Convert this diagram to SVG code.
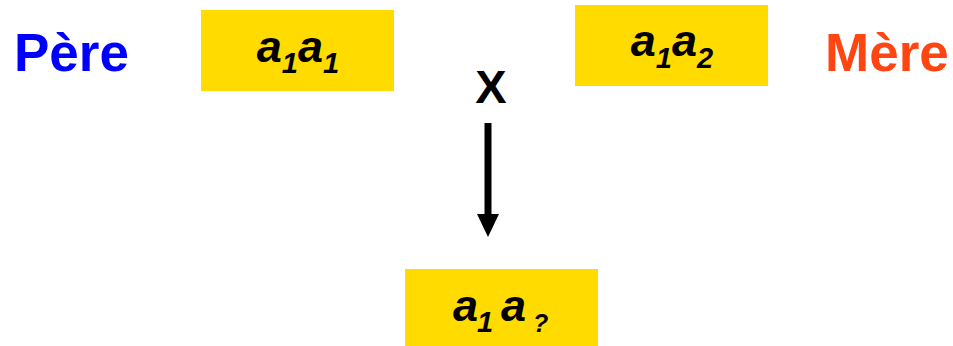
<svg xmlns="http://www.w3.org/2000/svg" width="953" height="346" viewBox="0 0 953 346">
<style>
.box{fill:#FFDB00}
.lbl{font-family:"Liberation Sans",Arial,sans-serif;font-weight:bold}
.g{font-family:"Liberation Sans",Arial,sans-serif;font-weight:bold;font-style:italic;font-size:45px;fill:#000}
.sub{font-size:29px}
</style>
<rect width="953" height="346" fill="#fff"/>
<g id="pere"><text class="lbl" x="14" y="71" font-size="53" fill="#0000FF">Père</text></g>
<g id="mere"><text class="lbl" x="825" y="71" font-size="53" fill="#FF4512">Mère</text></g>
<g id="father">
<rect class="box" x="201" y="10" width="193" height="81"/>
<text class="g" x="298" y="62" text-anchor="middle">a<tspan class="sub" dy="11">1</tspan><tspan dy="-11">a</tspan><tspan class="sub" dy="11">1</tspan></text>
</g>
<g id="mother">
<rect class="box" x="575" y="5" width="193" height="81"/>
<text class="g" x="672" y="56" text-anchor="middle">a<tspan class="sub" dy="12">1</tspan><tspan dy="-12">a</tspan><tspan class="sub" dy="12">2</tspan></text>
</g>
<g id="cross"><text class="lbl" x="491" y="103" font-size="47" text-anchor="middle">X</text></g>
<g id="child">
<rect class="box" x="405" y="269" width="193" height="77"/>
<text class="g" y="321"><tspan x="453">a</tspan><tspan class="sub" x="477" dy="11">1</tspan><tspan x="501" dy="-11">a</tspan><tspan x="533" dy="11" font-size="25">?</tspan></text>
</g>
<g id="connectors">
<line x1="488" y1="123" x2="488" y2="216" stroke="#000" stroke-width="7"/>
<polygon points="477,214 499,214 488,237" fill="#000"/>
</g>
</svg>
